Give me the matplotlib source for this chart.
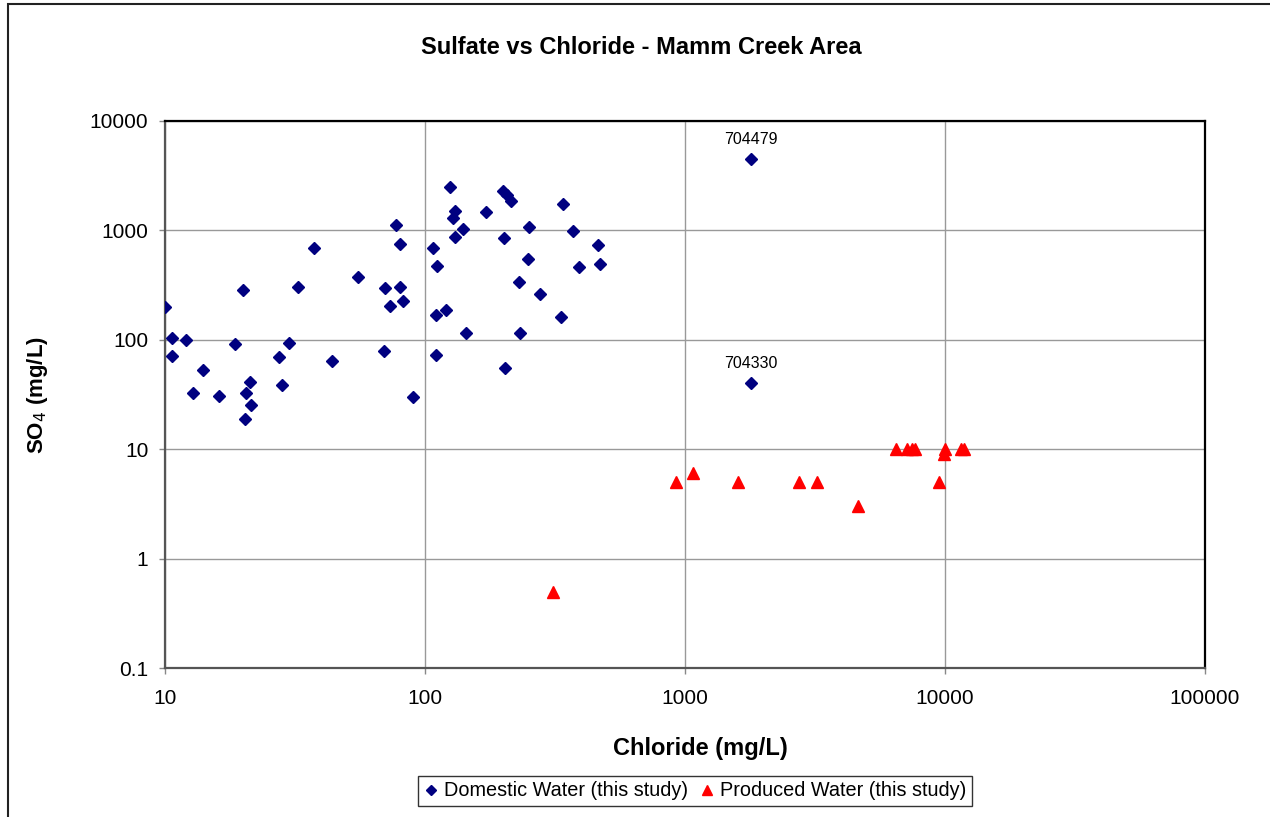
import matplotlib
matplotlib.use("Agg")
import matplotlib.pyplot as plt
from matplotlib.patches import Rectangle

plt.rcParams['font.family'] = ['Liberation Sans', 'DejaVu Sans']

# domestic water samples (chloride, sulfate) in mg/L
domestic_cl = [10, 10.6, 10.6, 12.0, 12.8, 14.0, 16.1, 18.6, 20.0, 21.2, 20.5, 21.4, 20.3,
               27.4, 28.1, 30.1, 32.6, 37.4, 43.8, 55.4, 70, 73.3, 69.3, 77.6, 80, 80.2,
               82.5, 89.7, 125, 130, 128, 140, 130, 107, 111, 110, 120.5, 143.4, 110,
               172, 200, 207, 214, 201, 251, 250, 230.5, 277.5, 232, 203, 339.5, 370,
               332.5, 390, 461, 470, 1794, 1794]
domestic_so4 = [198, 104, 71, 100, 32.6, 52.6, 30.6, 91.6, 285, 41, 32.4, 25.4, 19.0,
                69, 38.4, 93, 306, 695, 64, 377, 299, 202, 79, 1112, 746, 304,
                225, 30, 2476, 1514, 1290, 1037, 871, 686, 475, 169, 188, 116, 72,
                1473, 2306, 2107, 1857, 852, 1067, 544, 338, 264, 116, 55.6, 1754, 994,
                163, 463, 736, 490, 4523, 40]

# produced water samples
produced_cl = [311, 923, 1073, 1603, 2752, 3228, 4626, 6460, 7125, 7440, 7670,
               9484, 10030, 9885, 11490, 11830]
produced_so4 = [0.5, 5, 6, 5, 5, 5, 3, 10, 10, 10, 10, 5, 10, 9, 10, 10]

# labelled outlier wells
label_names = ['704479', '704330']
label_cl = [1794, 1794]
label_so4 = [4523, 40]

x_ticks = [10, 100, 1000, 10000, 100000]
x_tick_labels = ['10', '100', '1000', '10000', '100000']
y_ticks = [0.1, 1, 10, 100, 1000, 10000]
y_tick_labels = ['0.1', '1', '10', '100', '1000', '10000']

fig = plt.figure(figsize=(12.7, 8.17), dpi=100)
ax = fig.add_axes([165 / 1270, 1 - 668 / 817, 1040 / 1270, 547 / 817])

# outer chart border
fig.patches.append(Rectangle((8 / 1270, -0.1), 1.2, 0.1 + 1 - 4 / 817, transform=fig.transFigure,
                             fill=False, edgecolor='#222222', linewidth=1.5, zorder=0))

ax.plot(domestic_cl, domestic_so4, linestyle='none', marker='D', markersize=5.8,
        color='#000080', markeredgecolor='#000080', label='Domestic Water (this study)', zorder=3)
ax.plot(produced_cl, produced_so4, linestyle='none', marker='^', markersize=8,
        color='#FF0000', markeredgecolor='#FF0000', label='Produced Water (this study)', zorder=3)

for name, cl, so4 in zip(label_names, label_cl, label_so4):
    ax.annotate(name, (cl, so4), xytext=(0, 14), textcoords='offset points',
                ha='center', va='center', fontsize=11.5)

ax.set_xscale('log')
ax.set_yscale('log')
ax.set_xlim(10, 100000)
ax.set_ylim(0.1, 10000)
ax.set_xticks(x_ticks)
ax.set_xticklabels(x_tick_labels)
ax.set_yticks(y_ticks)
ax.set_yticklabels(y_tick_labels)
ax.minorticks_off()
ax.tick_params(axis='both', labelsize=15, length=4, width=1, color='#888888')
ax.tick_params(axis='x', pad=11)
ax.tick_params(axis='y', pad=8)

ax.grid(True, color='#999999', linewidth=1)
ax.set_axisbelow(True)

ax.spines['top'].set_color('black')
ax.spines['right'].set_color('black')
ax.spines['top'].set_linewidth(1.6)
ax.spines['right'].set_linewidth(1.6)
ax.spines['left'].set_color('#555555')
ax.spines['bottom'].set_color('#555555')
ax.spines['left'].set_linewidth(1.6)
ax.spines['bottom'].set_linewidth(1.6)

fig.text(641 / 1270, 1 - 48 / 817, 'Sulfate vs Chloride - Mamm Creek Area', ha='center', va='center',
         fontsize=17, fontweight='bold')
fig.text(700 / 1270, 1 - 748 / 817, 'Chloride (mg/L)', ha='center', va='center',
         fontsize=17, fontweight='bold')
fig.text(38 / 1270, 1 - 395 / 817, 'SO$_4$ (mg/L)', ha='center', va='center', rotation=90,
         fontsize=16, fontweight='bold')

leg = fig.legend(loc='center', bbox_to_anchor=(695 / 1270, 1 - 791 / 817), ncol=2,
                 fontsize=14.3, frameon=True, fancybox=False, handlelength=0.7,
                 handletextpad=0.3, columnspacing=0.6, borderpad=0.3, markerscale=0.95)
leg.get_frame().set_edgecolor('black')
leg.get_frame().set_linewidth(1)

fig.savefig('out.png', dpi=100)
